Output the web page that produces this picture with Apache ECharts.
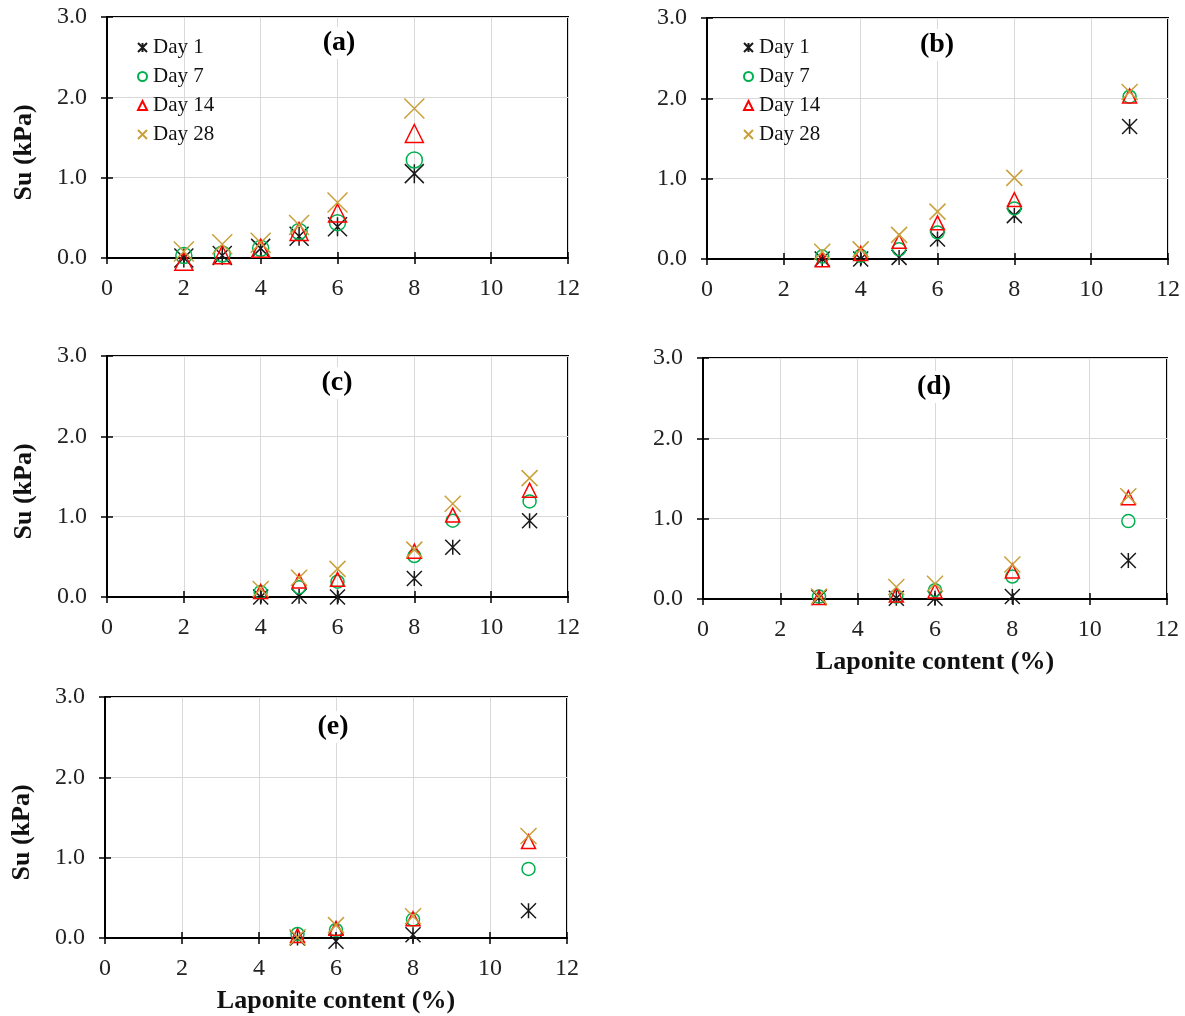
<!DOCTYPE html>
<html>
<head>
<meta charset="utf-8">
<style>
  html, body { margin: 0; padding: 0; background: #fff; }
  #chart { width: 1185px; height: 1016px; }
</style>
<script src="https://cdn.jsdelivr.net/npm/echarts@6/dist/echarts.min.js"></script>
</head>
<body>
<div id="chart"></div>
<script>
// values, Su in kPa
const dayNames = ["Day 1", "Day 7", "Day 14", "Day 28"];
const yTicks = [0, 1, 2, 3];

const xA = [2, 3, 4, 5, 6, 8];
const aDay1 = [0.00, 0.03, 0.12, 0.27, 0.39, 1.05];
const aDay7 = [0.03, 0.05, 0.12, 0.33, 0.44, 1.22];
const aDay14 = [-0.04, 0.04, 0.12, 0.33, 0.56, 1.55];
const aDay28 = [0.08, 0.17, 0.19, 0.41, 0.69, 1.86];

const xB = [3, 4, 5, 6, 8, 11];
const bDay1 = [0.00, 0.00, 0.02, 0.25, 0.54, 1.65];
const bDay7 = [0.03, 0.04, 0.12, 0.33, 0.63, 2.02];
const bDay14 = [-0.01, 0.07, 0.22, 0.45, 0.74, 2.03];
const bDay28 = [0.09, 0.12, 0.30, 0.59, 1.01, 2.08];

const xC = [4, 5, 6, 8, 9, 11];
const cDay1 = [0.00, 0.01, 0.00, 0.23, 0.62, 0.95];
const cDay7 = [0.06, 0.12, 0.19, 0.51, 0.95, 1.19];
const cDay14 = [0.07, 0.20, 0.22, 0.57, 1.02, 1.33];
const cDay28 = [0.10, 0.24, 0.35, 0.59, 1.16, 1.48];

const xD = [3, 5, 6, 8, 11];
const dDay1 = [0.02, 0.01, 0.01, 0.03, 0.48];
const dDay7 = [0.03, 0.03, 0.11, 0.28, 0.97];
const dDay14 = [0.02, 0.05, 0.10, 0.35, 1.26];
const dDay28 = [0.03, 0.15, 0.19, 0.43, 1.28];

const xE = [5, 6, 8, 11];
const eDay1 = [0.00, -0.04, 0.04, 0.34];
const eDay7 = [0.05, 0.10, 0.23, 0.86];
const eDay14 = [0.03, 0.12, 0.24, 1.20];
const eDay28 = [0.01, 0.16, 0.27, 1.27];

const FONT = '"Liberation Serif", "Times New Roman", serif';

// marker look per day
const markers = [
  { symbol: "path://M10,0L10,20M0,0L20,20M0,20L20,0", size: 15, color: "#1a1a1a" },
  { symbol: "circle", size: 13, color: "#00b050" },
  { symbol: "triangle", size: 14, color: "#ff0000" },
  { symbol: "path://M0,0L20,20M0,20L20,0", size: 16, color: "#c9a03a" },
];

const panels = [
  { label: "(a)", x: xA, ys: [aDay1, aDay7, aDay14, aDay28], grid: [107, 17, 461, 241], mid: [339, 43], scale: 1.25, yName: true, xName: false, legend: [137, 37] },
  { label: "(b)", x: xB, ys: [bDay1, bDay7, bDay14, bDay28], grid: [707, 18, 461, 241], mid: [937, 45], scale: 1, yName: false, xName: false, legend: [743, 37] },
  { label: "(c)", x: xC, ys: [cDay1, cDay7, cDay14, cDay28], grid: [107, 356, 461, 241], mid: [337, 383], scale: 1, yName: true, xName: false },
  { label: "(d)", x: xD, ys: [dDay1, dDay7, dDay14, dDay28], grid: [703, 358, 464, 241], mid: [934, 387], scale: 1, yName: false, xName: true },
  { label: "(e)", x: xE, ys: [eDay1, eDay7, eDay14, eDay28], grid: [105, 697, 462, 241], mid: [333, 727], scale: 1, yName: true, xName: true },
];

const grid = [], xAxis = [], yAxis = [], series = [], legend = [], graphic = [];

panels.forEach((p, i) => {
  const [l, t, w, h] = p.grid;
  grid.push({ left: l, top: t, width: w, height: h, show: true, borderColor: "#000", borderWidth: 2, backgroundColor: "#fff" });

  const base = { gridIndex: i, type: "value", min: 0, max: 12, interval: 2 };
  xAxis.push(Object.assign({}, base, {
    axisLine: { show: true, onZero: false, lineStyle: { color: "#000", width: 2 } },
    axisTick: { show: true, length: 6, lineStyle: { color: "#000", width: 1.5 } },
    axisLabel: { margin: 19, fontSize: 24, fontFamily: FONT, color: "#222" },
    splitLine: { show: true, lineStyle: { color: "#d9d9d9", width: 1 } },
    name: p.xName ? "Laponite content (%)" : "",
    nameLocation: "middle",
    nameGap: 50,
    nameTextStyle: { fontSize: 26, fontWeight: "bold", fontFamily: FONT, color: "#111" },
  }));
  // second axis only for the inner half of the ticks
  xAxis.push(Object.assign({}, base, {
    position: "bottom",
    axisLine: { show: false },
    axisTick: { show: true, inside: true, length: 6, lineStyle: { color: "#000", width: 1.5 } },
    axisLabel: { show: false },
    splitLine: { show: false },
  }));

  const ybase = { gridIndex: i, type: "value", min: yTicks[0], max: yTicks[yTicks.length - 1], interval: 1 };
  yAxis.push(Object.assign({}, ybase, {
    axisLine: { show: true, onZero: false, lineStyle: { color: "#000", width: 2 } },
    axisTick: { show: true, length: 6, lineStyle: { color: "#000", width: 1.5 } },
    axisLabel: { margin: 20, fontSize: 24, fontFamily: FONT, color: "#222", formatter: (v) => v.toFixed(1) },
    splitLine: { show: true, lineStyle: { color: "#d9d9d9", width: 1 } },
    name: p.yName ? "Su (kPa)" : "",
    nameLocation: "middle",
    nameRotate: 90,
    nameGap: 70,
    nameTextStyle: { fontSize: 26, fontWeight: "bold", fontFamily: FONT, color: "#111", padding: [0, 30, 0, 0] },
  }));
  yAxis.push(Object.assign({}, ybase, {
    position: "left",
    axisLine: { show: false },
    axisTick: { show: true, inside: true, length: 6, lineStyle: { color: "#000", width: 1.5 } },
    axisLabel: { show: false },
    splitLine: { show: false },
  }));

  p.ys.forEach((vals, k) => {
    const m = markers[k];
    series.push({
      name: dayNames[k],
      type: "scatter",
      xAxisIndex: i * 2,
      yAxisIndex: i * 2,
      clip: false,
      symbol: m.symbol,
      symbolSize: Math.round(m.size * p.scale),
      symbolKeepAspect: true,
      itemStyle: { color: "transparent", borderColor: m.color, borderWidth: 1.5, opacity: 1 },
      emphasis: { disabled: true },
      data: p.x.map((xv, j) => [xv, vals[j]]),
      z: 3 + k,
    });
  });

  if (p.legend) {
    legend.push({
      left: p.legend[0],
      top: p.legend[1],
      orient: "vertical",
      padding: 0,
      itemWidth: 9,
      itemHeight: 9,
      itemGap: 8,
      data: dayNames,
      textStyle: { fontSize: 21, fontFamily: FONT, color: "#111", padding: [0, 0, 0, 1] },
      selectedMode: false,
    });
  }

  // panel letter, white box hides the grid line behind it
  graphic.push({
    type: "text",
    x: p.mid[0],
    y: p.mid[1],
    z: 10,
    style: {
      text: p.label, font: "bold 28px " + FONT, align: "center", verticalAlign: "middle",
      fill: "#000", backgroundColor: "#fff", padding: [2, 2],
    },
  });
});

const chart = echarts.init(document.getElementById("chart"), null, { renderer: "canvas" });
chart.setOption({
  animation: false,
  backgroundColor: "#fff",
  grid, xAxis, yAxis, series, legend, graphic,
});
window.addEventListener("resize", () => chart.resize());
</script>
</body>
</html>
